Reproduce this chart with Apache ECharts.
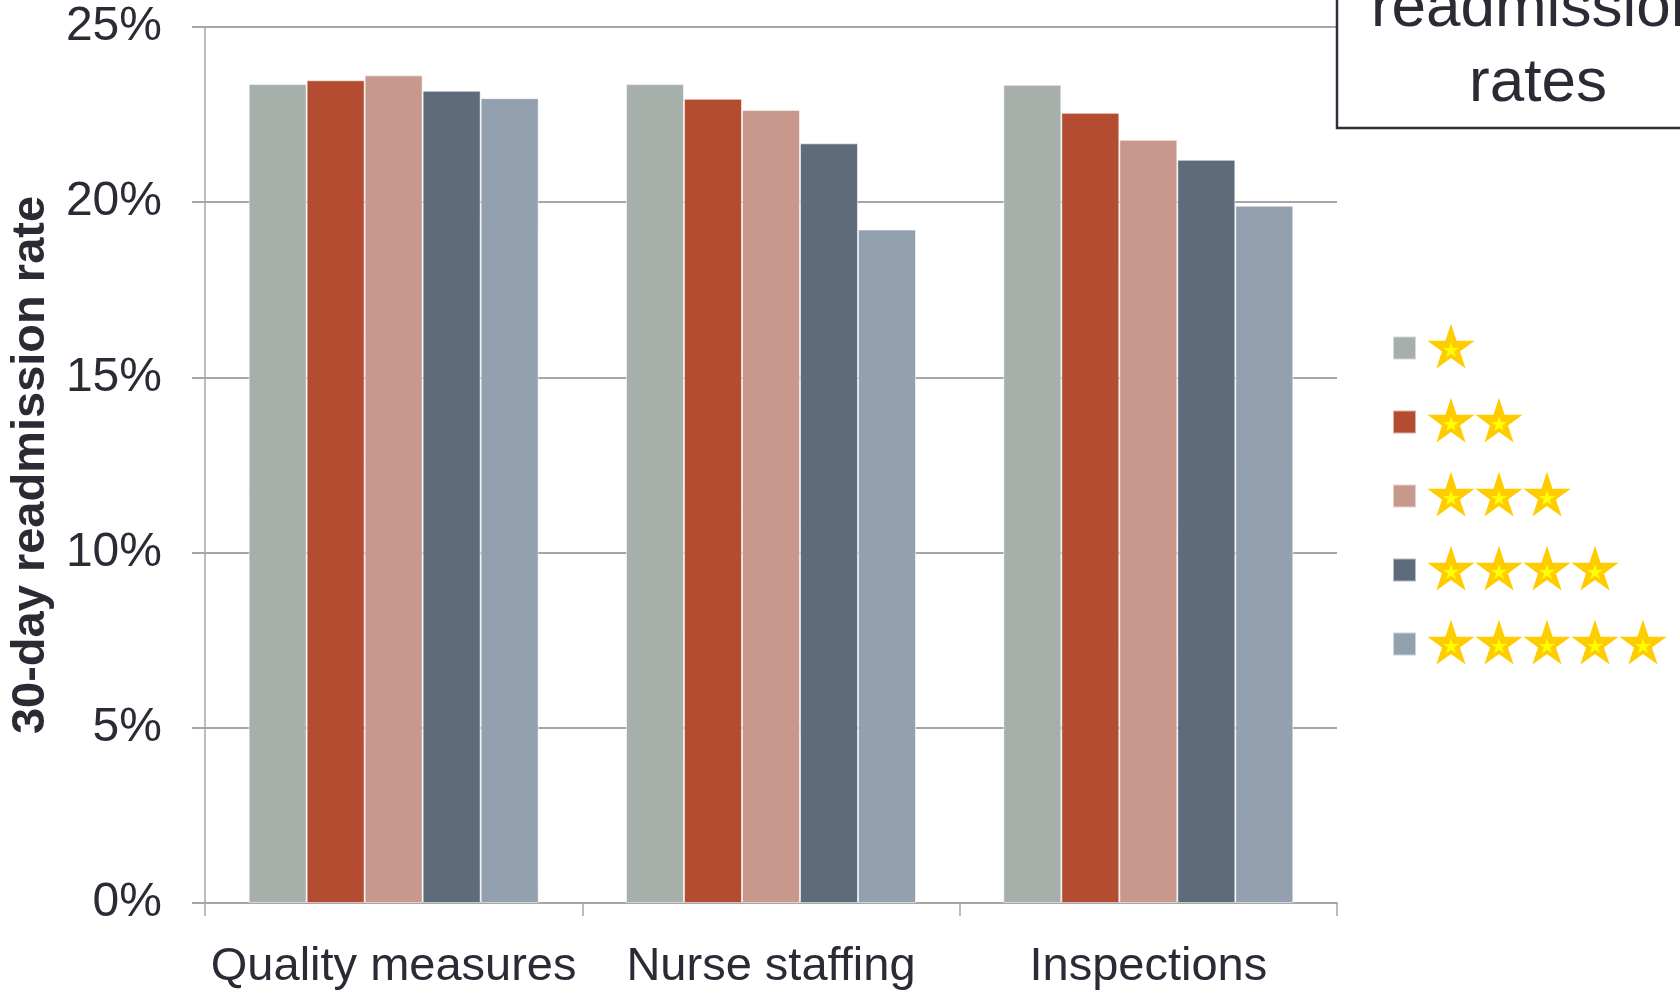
<!DOCTYPE html>
<html>
<head>
<meta charset="utf-8">
<script src="https://cdn.jsdelivr.net/npm/echarts@6/dist/echarts.min.js"></script>
<style>
html,body{margin:0;padding:0;background:#ffffff;}
#chart{width:1680px;height:996px;}
</style>
</head>
<body>
<div id="chart"></div>
<script>
// ---- data ----
const categories = ['Quality measures', 'Nurse staffing', 'Inspections'];
const seriesNames = ['1 star', '2 stars', '3 stars', '4 stars', '5 stars'];
const starCounts = [1, 2, 3, 4, 5];
const oneStar = [23.37, 23.37, 23.35];
const twoStars = [23.48, 22.95, 22.55];
const threeStars = [23.62, 22.63, 21.78];
const fourStars = [23.18, 21.68, 21.21];
const fiveStars = [22.97, 19.22, 19.90];
const yAxisTitle = '30-day readmission rate';
const boxTitle = 'readmission\nrates';
const colors = ['#A6AFA9', '#B34C31', '#C8988D', '#5D6B7B', '#93A0B0'];

const seriesValues = [oneStar, twoStars, threeStars, fourStars, fiveStars];

// star icon (legend decoration)
function starPoints(cx, cy, R) {
  const r = R * 0.382;
  const pts = [];
  for (let i = 0; i < 10; i++) {
    const rad = (i % 2 === 0) ? R : r;
    const a = -Math.PI / 2 + i * Math.PI / 5;
    pts.push((cx + rad * Math.cos(a)).toFixed(2) + ',' + (cy + rad * Math.sin(a)).toFixed(2));
  }
  return pts.join(' ');
}
const starSvg = '<svg xmlns="http://www.w3.org/2000/svg" width="48" height="48" viewBox="0 0 48 48">' +
  '<polygon points="' + starPoints(24, 24.5, 24.8) + '" fill="#FFCC00"/>' +
  '<polygon points="' + starPoints(24, 26.5, 8.3) + '" fill="#FFFF00"/>' +
  '</svg>';
const starURI = 'data:image/svg+xml;charset=utf-8,' + encodeURIComponent(starSvg);

const textColor = '#2B2B36';
const fontFamily = '"Liberation Sans", Arial, sans-serif';
const gridColor = '#A6A6A6';

const chart = echarts.init(document.getElementById('chart'), null, {renderer: 'canvas'});

const option = {
  backgroundColor: '#ffffff',
  animation: false,
  color: colors,
  grid: {left: 204, right: 343, top: 27, bottom: 93, containLabel: false},
  legend: {
    orient: 'vertical',
    left: 1392,
    top: 324,
    padding: 0,
    itemWidth: 23,
    itemHeight: 23,
    itemGap: 26,
    icon: 'rect',
    selectedMode: false,
    data: seriesNames,
    formatter: function (name) {
      const n = starCounts[seriesNames.indexOf(name)];
      let s = '{sp| }';
      for (let i = 0; i < n; i++) s += '{s| }';
      return s;
    },
    textStyle: {
      fontSize: 20,
      rich: {
        sp: {width: 6, height: 48},
        s: {width: 48, height: 48, backgroundColor: {image: starURI}}
      }
    }
  },
  xAxis: {
    type: 'category',
    data: categories,
    boundaryGap: true,
    axisLine: {show: true, lineStyle: {color: gridColor, width: 2}},
    axisTick: {show: true, length: 13, lineStyle: {color: gridColor, width: 1.5}},
    axisLabel: {
      margin: 41,
      fontSize: 47,
      color: textColor,
      fontFamily: fontFamily,
      interval: 0
    },
    splitLine: {show: false}
  },
  yAxis: {
    type: 'value',
    min: 0,
    max: 25,
    interval: 5,
    name: yAxisTitle,
    nameLocation: 'middle',
    nameGap: 140,
    nameTextStyle: {
      fontSize: 47,
      fontWeight: 'bold',
      color: textColor,
      fontFamily: fontFamily
    },
    axisLine: {show: true, lineStyle: {color: gridColor, width: 1.5}},
    axisTick: {show: true, length: 13, lineStyle: {color: gridColor, width: 2}},
    axisLabel: {
      margin: 43,
      fontSize: 48,
      color: textColor,
      fontFamily: fontFamily,
      padding: [8, 0, 0, 0],
      formatter: '{value}%'
    },
    splitLine: {show: true, lineStyle: {color: gridColor, width: 2}}
  },
  graphic: [
    {
      type: 'rect',
      z: 10,
      shape: {x: 1337, y: -20, width: 420, height: 148},
      style: {fill: '#ffffff', stroke: '#2E303C', lineWidth: 2.5}
    },
    {
      type: 'text',
      z: 11,
      style: {
        x: 1538,
        y: 46,
        text: boxTitle,
        align: 'center',
        verticalAlign: 'middle',
        fontSize: 62,
        lineHeight: 75,
        fontFamily: fontFamily,
        fill: textColor
      }
    }
  ],
  series: seriesNames.map(function (name, i) {
    return {
      name: name,
      type: 'bar',
      data: seriesValues[i],
      barWidth: 58,
      barGap: '0%',
      itemStyle: {color: colors[i], borderColor: 'rgba(255,255,255,0.55)', borderWidth: 1},
      emphasis: {disabled: true}
    };
  })
};

chart.setOption(option);
</script>
</body>
</html>
